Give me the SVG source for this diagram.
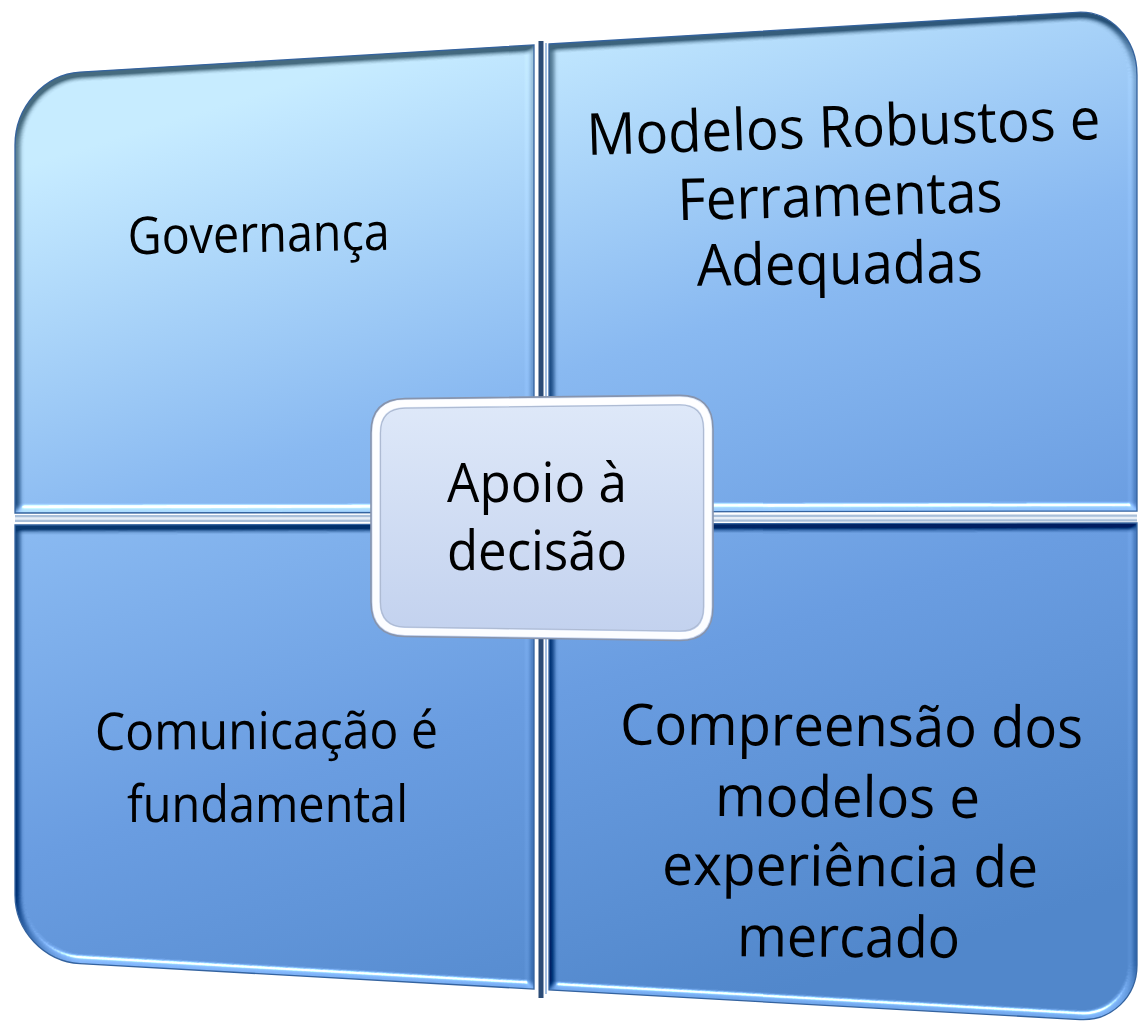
<svg xmlns="http://www.w3.org/2000/svg" width="1140" height="1027" viewBox="0 0 1140 1027">
  <defs>
    <linearGradient id="panelFill" gradientUnits="userSpaceOnUse" x1="400" y1="50" x2="700" y2="1020">
      <stop offset="0" stop-color="#c4e9fd"/>
      <stop offset="0.35" stop-color="#86b6ee"/>
      <stop offset="0.65" stop-color="#679ade"/>
      <stop offset="1" stop-color="#4e84c8"/>
    </linearGradient>
    <linearGradient id="centerFill" x1="0" y1="0" x2="0" y2="1">
      <stop offset="0" stop-color="#dfe9f9"/>
      <stop offset="1" stop-color="#c2d1ee"/>
    </linearGradient>
    <filter id="bevel" x="-5%" y="-5%" width="110%" height="110%" color-interpolation-filters="sRGB">
      <feGaussianBlur in="SourceAlpha" stdDeviation="3.5" result="blur"/>
      <feDiffuseLighting in="blur" surfaceScale="9" diffuseConstant="1" lighting-color="#ffffff" result="diff">
        <feDistantLight azimuth="70" elevation="45"/>
      </feDiffuseLighting>
      <feSpecularLighting in="blur" surfaceScale="9" specularConstant="0.9" specularExponent="40" lighting-color="#ffffff" result="spec">
        <feDistantLight azimuth="80" elevation="40"/>
      </feSpecularLighting>
      <feComposite in="SourceGraphic" in2="diff" operator="arithmetic" k1="0" k2="1" k3="0.7" k4="-0.495" result="lit"/>
      <feComposite in="lit" in2="spec" operator="arithmetic" k1="0" k2="1" k3="0.8" k4="0" result="shine"/>
      <feComposite in="shine" in2="SourceAlpha" operator="in"/>
    </filter>
  </defs>
  <style>
    .panel { fill: url(#panelFill); }
    .edge { fill: none; stroke: #34639f; stroke-width: 1.3; }
    .lbl { font-family: 'Open Sans', Lato, 'Liberation Sans', sans-serif; fill: #000000; text-anchor: middle; }
    .q { font-size: 52px; }
    .qr { font-size: 58px; }
    .qb { font-size: 57px; }
    .c { font-size: 55px; }
  </style>

  <rect x="0" y="0" width="1140" height="1027" fill="#ffffff"/>

  <g id="dividers">
    <line x1="15" y1="518.5" x2="1137" y2="518" stroke="#a9bfd9" stroke-width="7"/>
    <line x1="15" y1="518.5" x2="1137" y2="518" stroke="#e6eef7" stroke-width="2.5"/>
    <line x1="541" y1="41" x2="541" y2="998" stroke="#2b4b76" stroke-width="5"/>
    <line x1="546" y1="43" x2="546" y2="994" stroke="#a3bfe2" stroke-width="2"/>
  </g>

  <g id="node-governanca">
    <path class="panel" filter="url(#bevel)" d="M 15,145 C 15,107 44.2,74.2 80,72.1 L 534,44.9 L 534,512.5 L 15,513 Z"/>
    <path class="edge" d="M 15,145 C 15,107 44.2,74.2 80,72.1 L 534,44.9 L 534,512.5 L 15,513 Z"/>
    <text class="lbl q" x="259" y="252" textLength="262" lengthAdjust="spacingAndGlyphs" transform="rotate(-1 259 252)">Governança</text>
  </g>

  <g id="node-modelos">
    <path class="panel" filter="url(#bevel)" d="M 549,44 L 1077,12.3 C 1110,10.3 1137,38.5 1137,75 L 1137,511 L 549,512 Z"/>
    <path class="edge" d="M 549,44 L 1077,12.3 C 1110,10.3 1137,38.5 1137,75 L 1137,511 L 549,512 Z"/>
    <text class="lbl qr" x="844" y="147" textLength="514" lengthAdjust="spacingAndGlyphs" transform="rotate(-1.8 844 147)">Modelos Robustos e</text>
    <text class="lbl qr" x="840.5" y="216" textLength="325" lengthAdjust="spacingAndGlyphs" transform="rotate(-1.5 840.5 216)">Ferramentas</text>
    <text class="lbl qr" x="840" y="284" textLength="286" lengthAdjust="spacingAndGlyphs" transform="rotate(-0.7 840 284)">Adequadas</text>
  </g>

  <g id="node-comunicacao">
    <path class="panel" filter="url(#bevel)" d="M 15,525 L 534,524 L 534,989.1 L 80,963.6 C 44.2,961.6 15,930.8 15,895 Z"/>
    <path class="edge" d="M 15,525 L 534,524 L 534,989.1 L 80,963.6 C 44.2,961.6 15,930.8 15,895 Z"/>
    <text class="lbl q" x="266.5" y="749" textLength="343" lengthAdjust="spacingAndGlyphs" transform="rotate(-0.3 266.5 749)">Comunicação é</text>
    <text class="lbl q" x="267.5" y="822" textLength="281" lengthAdjust="spacingAndGlyphs">fundamental</text>
  </g>

  <g id="node-compreensao">
    <path class="panel" filter="url(#bevel)" d="M 549,524 L 1137,523 L 1137,965 C 1137,996.8 1111.4,1021.4 1080,1019.6 L 549,989.9 Z"/>
    <path class="edge" d="M 549,524 L 1137,523 L 1137,965 C 1137,996.8 1111.4,1021.4 1080,1019.6 L 549,989.9 Z"/>
    <text class="lbl qb" x="851.5" y="746" textLength="463" lengthAdjust="spacingAndGlyphs" transform="rotate(0.4 851.5 746)">Compreensão dos</text>
    <text class="lbl qb" x="847.5" y="817" textLength="265" lengthAdjust="spacingAndGlyphs" transform="rotate(0.4 847.5 817)">modelos e</text>
    <text class="lbl qb" x="850" y="886" textLength="376" lengthAdjust="spacingAndGlyphs" transform="rotate(0.4 850 886)">experiência de</text>
    <text class="lbl qb" x="848.5" y="957" textLength="223" lengthAdjust="spacingAndGlyphs" transform="rotate(0.4 848.5 957)">mercado</text>
  </g>

  <g id="node-apoio">
    <path fill="url(#centerFill)" stroke="#8794ad" stroke-width="1.6" d="M 371,433 Q 371,399 405,398.6 L 679,395.4 Q 713,395 713,429 L 713,607 Q 713,641 679,640.5 L 405,636.5 Q 371,636 371,602 Z"/>
    <path fill="none" stroke="#ffffff" stroke-width="7" stroke-opacity="0.95" d="M 376,433 Q 376,404 405,403.6 L 679,400.4 Q 708,400 708,429 L 708,607 Q 708,636 679,635.5 L 405,631.5 Q 376,631 376,602 Z"/>
    <path fill="none" stroke="#aebbd3" stroke-width="1.2" d="M 380.5,433 Q 380.5,408.5 405,408.1 L 679,404.9 Q 703.5,404.5 703.5,429 L 703.5,607 Q 703.5,631.5 679,631 L 405,627 Q 380.5,626.5 380.5,602 Z"/>
    <text class="lbl c" x="537" y="502" textLength="180" lengthAdjust="spacingAndGlyphs">Apoio à</text>
    <text class="lbl c" x="537" y="570" textLength="180" lengthAdjust="spacingAndGlyphs">decisão</text>
  </g>
</svg>
